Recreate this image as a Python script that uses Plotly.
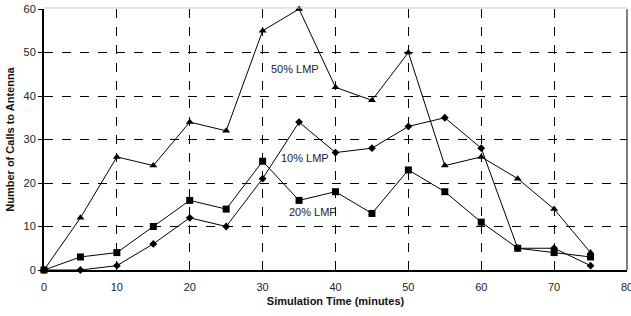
import plotly.graph_objects as go

time_min = [0, 5, 10, 15, 20, 25, 30, 35, 40, 45, 50, 55, 60, 65, 70, 75]
lmp50 = [0, 12, 26, 24, 34, 32, 55, 60, 42, 39, 50, 24, 26, 21, 14, 4]
lmp10 = [0, 0, 1, 6, 12, 10, 21, 34, 27, 28, 33, 35, 28, 5, 5, 1]
lmp20 = [0, 3, 4, 10, 16, 14, 25, 16, 18, 13, 23, 18, 11, 5, 4, 3]

labels = [("50% LMP", 34.5, 46.3), ("10% LMP", 35.8, 25.7), ("20% LMP", 36.9, 13.3)]

fig = go.Figure()
fig.add_trace(go.Scatter(x=time_min, y=lmp50, mode="lines+markers", name="50% LMP",
                         line=dict(color="black", width=1),
                         marker=dict(symbol="triangle-up", size=7, color="black"),
                         cliponaxis=False))
fig.add_trace(go.Scatter(x=time_min, y=lmp10, mode="lines+markers", name="10% LMP",
                         line=dict(color="black", width=1),
                         marker=dict(symbol="diamond", size=6, color="black"),
                         cliponaxis=False))
fig.add_trace(go.Scatter(x=time_min, y=lmp20, mode="lines+markers", name="20% LMP",
                         line=dict(color="black", width=1),
                         marker=dict(symbol="square", size=7, color="black"),
                         cliponaxis=False))

for txt, x, y in labels:
    fig.add_annotation(x=x, y=y, text=txt, showarrow=False,
                       font=dict(family="Liberation Sans, Arial", size=11, color="#222"))

fig.add_shape(type="line", xref="paper", yref="paper", x0=0, x1=1, y0=1.004, y1=1.004,
              line=dict(color="#c8c8c8", width=1))
fig.add_shape(type="line", xref="paper", yref="paper", x0=1, x1=1, y0=0, y1=1,
              line=dict(color="black", width=1))

fig.update_layout(
    width=631, height=316,
    margin=dict(l=44, r=4, t=9, b=46, autoexpand=False),
    paper_bgcolor="white", plot_bgcolor="white",
    showlegend=False,
    font=dict(family="Liberation Sans, Arial", size=11, color="#222"),
    xaxis=dict(range=[0, 80], tickmode="linear", tick0=0, dtick=10,
               showgrid=True, gridcolor="black", gridwidth=1, griddash="dash",
               showline=True, linecolor="black", linewidth=1.5,
               zeroline=False, ticks="outside", ticklen=6, tickcolor="rgba(0,0,0,0)",
               automargin=False, ticklabeloverflow="allow",
               tickfont=dict(size=11, color="#222"),
               title=dict(text="<b>Simulation Time (minutes)</b>", font=dict(size=11, color="#111"), standoff=5)),
    yaxis=dict(range=[0, 60], tickmode="linear", tick0=0, dtick=10,
               showgrid=True, gridcolor="black", gridwidth=1, griddash="dash",
               showline=True, linecolor="black", linewidth=2,
               zeroline=False, ticks="outside", ticklen=4, tickcolor="black",
               automargin=False,
               tickfont=dict(size=11, color="#222"),
               title=dict(text="<b>Number of Calls to Antenna</b>", font=dict(size=11, color="#111"), standoff=7)),
)

fig.write_html("out.html", config={"displayModeBar": False},
               post_script="document.body.style.margin='0';document.body.style.overflow='hidden';")
